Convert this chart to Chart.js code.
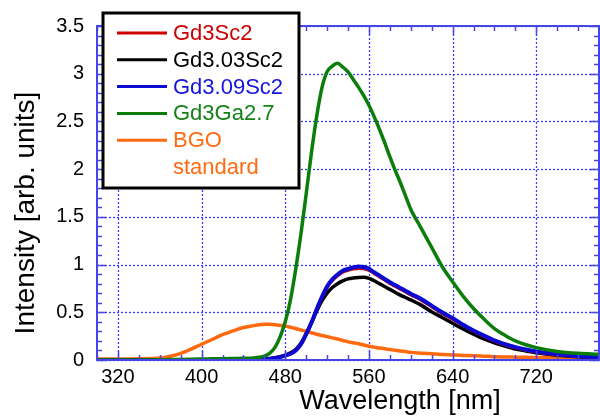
<!DOCTYPE html>
<html>
<head>
<meta charset="utf-8">
<script src="https://cdn.jsdelivr.net/npm/chart.js@4.4.1/dist/chart.umd.min.js"></script>
<style>
  html, body { margin: 0; padding: 0; background: #fff; }
  #wrap { width: 600px; height: 416px; }
</style>
</head>
<body>
<div id="wrap"><canvas id="spectraChart" width="600" height="416"></canvas></div>
<script>
// wavelength grid (nm) shared by every spectrum
const wavelengths = [300, 320, 340, 360, 370, 380, 390, 400, 410, 420,
    430, 440, 450, 455, 460, 465, 470, 475, 480, 485,
    490, 495, 500, 505, 510, 515, 520, 525, 530, 535,
    540, 545, 550, 555, 560, 565, 570, 575, 580, 585,
    590, 595, 600, 610, 620, 630, 640, 650, 660, 670,
    680, 690, 700, 710, 720, 740, 760, 780];

// intensities (arb. units)
const gd3Sc2 = [0, 0, 0, 0, 0, 0, 0, 0, 0, 0,
    0, 0.001, 0.002, 0.004, 0.006, 0.012, 0.02, 0.03, 0.045, 0.065,
    0.10, 0.165, 0.27, 0.39, 0.53, 0.655, 0.765, 0.835, 0.885, 0.922,
    0.942, 0.955, 0.962, 0.96, 0.942, 0.91, 0.875, 0.84, 0.805, 0.775,
    0.745, 0.715, 0.685, 0.63, 0.56, 0.49, 0.43, 0.365, 0.305, 0.25,
    0.2, 0.16, 0.13, 0.105, 0.085, 0.055, 0.04, 0.03];

const gd303Sc2 = [0, 0, 0, 0, 0, 0, 0, 0, 0, 0,
    0, 0.001, 0.002, 0.004, 0.007, 0.014, 0.023, 0.035, 0.052, 0.075,
    0.11, 0.175, 0.275, 0.39, 0.51, 0.62, 0.70, 0.76, 0.80, 0.83,
    0.85, 0.86, 0.865, 0.866, 0.855, 0.83, 0.80, 0.77, 0.74, 0.71,
    0.68, 0.655, 0.63, 0.575, 0.505, 0.445, 0.385, 0.325, 0.27, 0.22,
    0.18, 0.145, 0.115, 0.095, 0.075, 0.05, 0.035, 0.03];

const gd309Sc2 = [0, 0, 0, 0, 0, 0, 0, 0, 0, 0,
    0, 0.001, 0.002, 0.004, 0.006, 0.012, 0.02, 0.03, 0.045, 0.065,
    0.10, 0.165, 0.27, 0.39, 0.53, 0.66, 0.77, 0.845, 0.895, 0.935,
    0.955, 0.97, 0.98, 0.975, 0.955, 0.92, 0.885, 0.85, 0.815, 0.785,
    0.755, 0.725, 0.695, 0.64, 0.57, 0.50, 0.44, 0.37, 0.31, 0.255,
    0.205, 0.165, 0.135, 0.11, 0.09, 0.06, 0.04, 0.03];

const gd3Ga27 = [0, 0, 0, 0.002, 0.004, 0.006, 0.008, 0.01, 0.012, 0.014,
    0.016, 0.018, 0.022, 0.028, 0.04, 0.07, 0.13, 0.24, 0.40, 0.63,
    0.95, 1.32, 1.74, 2.17, 2.55, 2.85, 3.02, 3.08, 3.11, 3.07,
    3.02, 2.94, 2.86, 2.77, 2.67, 2.55, 2.42, 2.28, 2.13, 1.99,
    1.86, 1.72, 1.58, 1.38, 1.18, 0.98, 0.82, 0.67, 0.54, 0.43,
    0.33, 0.26, 0.20, 0.16, 0.13, 0.09, 0.07, 0.06];

const bgoStandard = [0.01, 0.01, 0.012, 0.02, 0.04, 0.07, 0.115, 0.165, 0.215, 0.265,
    0.305, 0.34, 0.36, 0.37, 0.375, 0.374, 0.37, 0.363, 0.355, 0.343,
    0.33, 0.315, 0.30, 0.285, 0.27, 0.257, 0.245, 0.232, 0.22, 0.205,
    0.19, 0.18, 0.17, 0.157, 0.145, 0.135, 0.125, 0.117, 0.11, 0.102,
    0.095, 0.088, 0.08, 0.072, 0.065, 0.058, 0.053, 0.048, 0.045, 0.04,
    0.035, 0.032, 0.03, 0.028, 0.025, 0.025, 0.02, 0.02];

const seriesLabels = ['Gd3Sc2', 'Gd3.03Sc2', 'Gd3.09Sc2', 'Gd3Ga2.7', 'BGO\nstandard'];
const xTicks = [320, 400, 480, 560, 640, 720];
const yTicks = [0, 0.5, 1, 1.5, 2, 2.5, 3, 3.5];

const FONT = '"Liberation Sans", Arial, Helvetica, sans-serif';
const FRAME_COLOR = '#4646e6';
const GRID_COLOR = '#3c3cff';

function toPoints(values) {
    return wavelengths.map((w, i) => ({ x: w, y: values[i] }));
}

function strokeLine(ctx, x1, y1, x2, y2) {
    ctx.beginPath();
    ctx.moveTo(x1, y1);
    ctx.lineTo(x2, y2);
    ctx.stroke();
}

// dotted grid, inward ticks on all four sides, framed legend and axis titles
const plotDecor = {
    id: 'plotDecor',
    beforeDatasetsDraw(chart) {
        const { ctx, chartArea: a, scales: { x, y } } = chart;
        ctx.save();
        ctx.strokeStyle = GRID_COLOR;
        ctx.lineWidth = 1.3;
        ctx.setLineDash([2, 2]);
        xTicks.forEach(v => {
            const px = Math.round(x.getPixelForValue(v)) + 0.5;
            strokeLine(ctx, px, a.top, px, a.bottom);
        });
        yTicks.forEach(v => {
            const py = Math.round(y.getPixelForValue(v)) + 0.5;
            strokeLine(ctx, a.left, py, a.right, py);
        });
        ctx.restore();
    },
    afterDatasetsDraw(chart) {
        const { ctx, chartArea: a, scales: { x, y } } = chart;
        ctx.save();
        ctx.strokeStyle = FRAME_COLOR;
        ctx.lineWidth = 1.5;

        // minor + major ticks, x axis (every 20 nm)
        for (let v = 300; v <= 780; v += 20) {
            const px = Math.round(x.getPixelForValue(v)) + 0.5;
            const len = xTicks.includes(v) ? 9 : 5;
            strokeLine(ctx, px, a.bottom, px, a.bottom - len);
            strokeLine(ctx, px, a.top, px, a.top + len);
        }
        // y axis (every 0.1)
        for (let i = 0; i <= 35; i++) {
            const py = Math.round(y.getPixelForValue(i / 10)) + 0.5;
            const len = i % 5 === 0 ? 9 : 5;
            strokeLine(ctx, a.left, py, a.left + len, py);
            strokeLine(ctx, a.right, py, a.right - len, py);
        }

        ctx.lineWidth = 2;
        ctx.strokeRect(a.left, a.top, a.right - a.left, a.bottom - a.top);

        // legend box
        const box = { left: 103, top: 13, right: 299, bottom: 188 };
        ctx.fillStyle = '#fff';
        ctx.fillRect(box.left, box.top, box.right - box.left, box.bottom - box.top);
        ctx.strokeStyle = '#000';
        ctx.lineWidth = 3;
        ctx.strokeRect(box.left, box.top, box.right - box.left, box.bottom - box.top);

        ctx.font = '22px ' + FONT;
        ctx.textBaseline = 'middle';
        ctx.textAlign = 'left';
        let rowY = 33;
        chart.data.datasets.forEach(ds => {
            ctx.strokeStyle = ds.borderColor;
            ctx.lineWidth = 3;
            strokeLine(ctx, 117, rowY, 167, rowY);
            ctx.fillStyle = ds.legendColor;
            ds.label.split('\n').forEach(part => {
                ctx.fillText(part, 173, rowY + 1);
                rowY += 26.8;
            });
        });

        // axis titles
        ctx.fillStyle = '#000';
        ctx.font = '27px ' + FONT;
        ctx.textAlign = 'center';
        ctx.textBaseline = 'alphabetic';
        ctx.fillText('Wavelength [nm]', 400, 409);

        ctx.font = '28px ' + FONT;
        ctx.translate(26, 213);
        ctx.rotate(-Math.PI / 2);
        ctx.textBaseline = 'middle';
        ctx.fillText('Intensity [arb. units]', 0, 0);
        ctx.restore();
    }
};

document.addEventListener('DOMContentLoaded', function() {
    const ctx = document.getElementById('spectraChart').getContext('2d');

    // legend order follows the array; "order" puts green on top, orange underneath
    const datasets = [
        { label: seriesLabels[0], data: toPoints(gd3Sc2), borderColor: '#cc0000', legendColor: '#cc0000', order: 2 },
        { label: seriesLabels[1], data: toPoints(gd303Sc2), borderColor: '#000000', legendColor: '#000000', order: 3 },
        { label: seriesLabels[2], data: toPoints(gd309Sc2), borderColor: '#0a0ad2', legendColor: '#1414dc', order: 1, borderWidth: 4 },
        { label: seriesLabels[3], data: toPoints(gd3Ga27), borderColor: '#0b7d0b', legendColor: '#148214', order: 0 },
        { label: seriesLabels[4], data: toPoints(bgoStandard), borderColor: '#ff6a10', legendColor: '#ff6a13', order: 4 }
    ];
    datasets.forEach(ds => {
        ds.borderWidth = ds.borderWidth || 3.5;
        ds.pointRadius = 0;
        ds.fill = false;
        ds.cubicInterpolationMode = 'monotone';
    });

    new Chart(ctx, {
        type: 'line',
        data: { datasets: datasets },
        options: {
            responsive: false,
            animation: false,
            layout: { padding: { left: 0, right: 1, top: 26, bottom: 0 } },
            plugins: {
                legend: { display: false },
                tooltip: { enabled: false }
            },
            scales: {
                x: {
                    type: 'linear',
                    min: 300,
                    max: 780,
                    grid: { display: false, drawTicks: false },
                    border: { display: false },
                    afterBuildTicks: s => { s.ticks = xTicks.map(v => ({ value: v })); },
                    afterFit: s => { s.height = 56; },
                    ticks: {
                        color: '#000',
                        font: { family: FONT, size: 20 },
                        padding: 5,
                        maxRotation: 0,
                        autoSkip: false
                    }
                },
                y: {
                    type: 'linear',
                    min: 0,
                    max: 3.5,
                    grid: { display: false, drawTicks: false },
                    border: { display: false },
                    afterBuildTicks: s => { s.ticks = yTicks.map(v => ({ value: v })); },
                    afterFit: s => { s.width = 97; },
                    ticks: {
                        color: '#000',
                        font: { family: FONT, size: 20 },
                        padding: 13,
                        callback: v => String(v)
                    }
                }
            }
        },
        plugins: [plotDecor]
    });
});
</script>
</body>
</html>
